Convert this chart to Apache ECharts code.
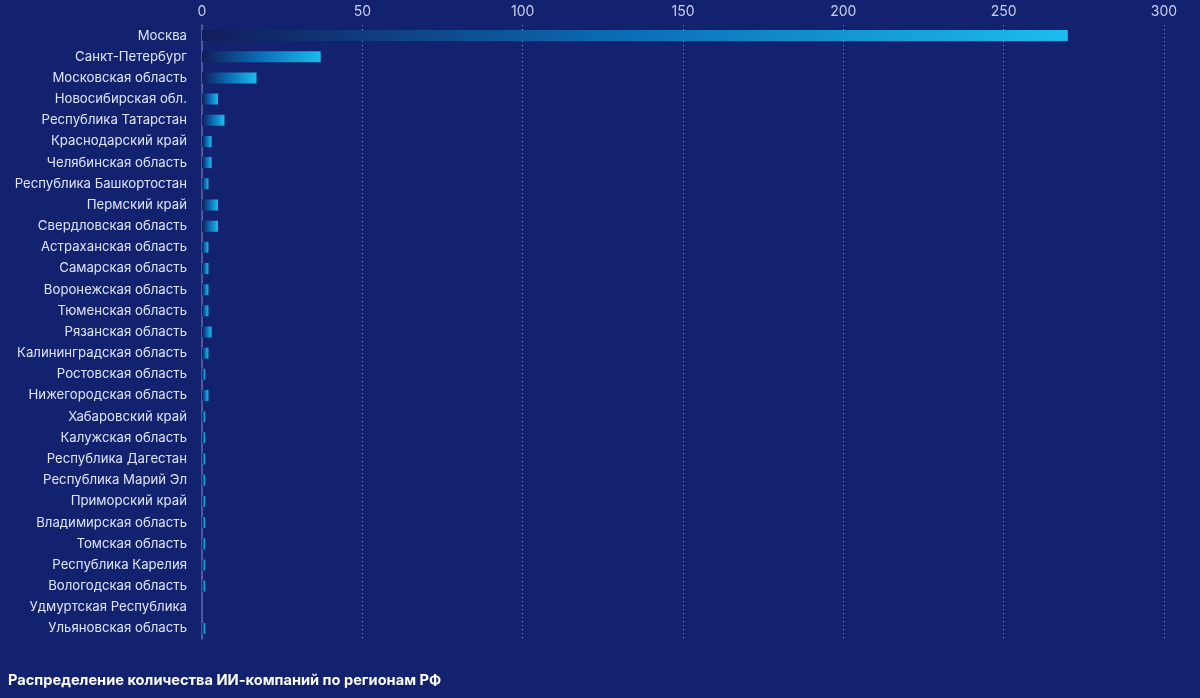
<!DOCTYPE html>
<html>
<head>
<meta charset="utf-8">
<script src="https://cdn.jsdelivr.net/npm/echarts@6/dist/echarts.min.js"></script>
<style>
  html, body { margin: 0; padding: 0; background: #13226e; }
  #chart { width: 1200px; height: 698px; }
</style>
</head>
<body>
<div id="chart"></div>
<script>
// регионы, сверху вниз
var regions = [
    'Москва', 'Санкт-Петербург', 'Московская область', 'Новосибирская обл.',
    'Республика Татарстан', 'Краснодарский край', 'Челябинская область',
    'Республика Башкортостан', 'Пермский край', 'Свердловская область',
    'Астраханская область', 'Самарская область', 'Воронежская область',
    'Тюменская область', 'Рязанская область', 'Калининградская область',
    'Ростовская область', 'Нижегородская область', 'Хабаровский край',
    'Калужская область', 'Республика Дагестан', 'Республика Марий Эл',
    'Приморский край', 'Владимирская область', 'Томская область',
    'Республика Карелия', 'Вологодская область', 'Удмуртская Республика',
    'Ульяновская область'
];
// количество ИИ-компаний
var companies = [270, 37, 17, 5, 7, 3, 3, 2, 5, 5, 2, 2, 2, 2, 3, 2, 1, 2, 1, 1, 1, 1, 1, 1, 1, 1, 1, 0, 1];
var xTicks = { min: 0, max: 300, step: 50 };
var chartTitle = 'Распределение количества ИИ-компаний по регионам РФ';

var chart = echarts.init(document.getElementById('chart'));

var option = {
    backgroundColor: '#13226e',
    textStyle: { fontFamily: 'Inter' },
    title: {
        text: chartTitle,
        left: 8,
        top: 673,
        padding: 0,
        textStyle: {
            color: '#ffffff',
            fontSize: 14.6,
            fontWeight: 'bold',
            fontFamily: 'Inter'
        }
    },
    grid: {
        left: 202,
        right: 36,
        top: 25,
        bottom: 59
    },
    xAxis: {
        type: 'value',
        position: 'top',
        min: xTicks.min,
        max: xTicks.max,
        interval: xTicks.step,
        axisLine: { show: false },
        axisTick: { show: false },
        axisLabel: {
            color: '#c9d0ee',
            fontSize: 14,
            margin: 6
        },
        splitLine: {
            show: true,
            lineStyle: {
                color: '#7d88c4',
                type: [1, 3],
                width: 1
            }
        }
    },
    yAxis: {
        type: 'category',
        inverse: true,
        data: regions,
        axisLine: {
            show: true,
            lineStyle: { color: '#5c69ac', width: 1.5 }
        },
        axisTick: { show: false },
        axisLabel: {
            color: '#dfe4fb',
            fontSize: 13.2,
            margin: 15
        }
    },
    series: [
        {
            type: 'bar',
            data: companies,
            barWidth: 11,
            itemStyle: {
                color: new echarts.graphic.LinearGradient(0, 0, 1, 0, [
                    { offset: 0, color: '#111d5a' },
                    { offset: 0.5, color: '#0b6fb7' },
                    { offset: 1, color: '#1bbdee' }
                ])
            }
        }
    ]
};

chart.setOption(option);
</script>
</body>
</html>
